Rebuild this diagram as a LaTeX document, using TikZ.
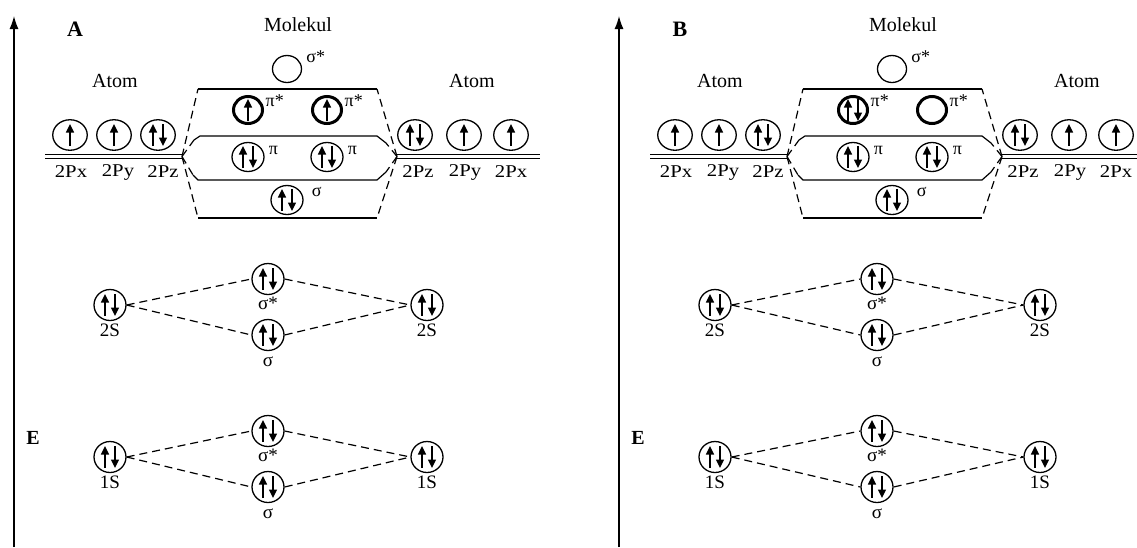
\documentclass[tikz,border=0pt]{standalone}
\usepackage{fontspec}
\setmainfont{Liberation Serif}
\newfontfamily\widefont{Liberation Serif}[FakeStretch=1.15]
\usepackage{tikz}
\usetikzlibrary{arrows.meta, shapes.geometric, positioning}

\tikzset{
  orb/.style={draw, ellipse, line width=1.3pt, inner sep=0pt,
    minimum width=34.5pt, minimum height=30.5pt},
  morb/.style={orb, minimum width=32pt, minimum height=29pt},
  thickorb/.style={orb, line width=3pt, minimum width=29pt, minimum height=27pt},
  sorb/.style={orb, minimum width=32pt, minimum height=31pt},
  spin/.style={line width=1.5pt, -{Triangle[length=8.5pt, width=8pt]}},
  level/.style={line width=1.2pt},
  link/.style={line width=1.2pt, dash pattern=on 8pt off 5pt},
  atomline/.style={double, line width=1.1pt, double distance=3.5pt},
  axis/.style={line width=1.3pt, -{Latex[length=13pt, width=9pt]}},
  title/.style={font=\fontsize{20}{24}\selectfont},
  orbname/.style={font=\widefont\fontsize{18}{22}\selectfont, inner sep=0pt},
  tag/.style={font=\fontsize{18}{22}\selectfont, inner sep=0pt, anchor=south west},
  lvl/.style={font=\fontsize{19}{23}\selectfont, inner sep=0pt,
    text height=13pt, text depth=4pt},
}

% spins inside an orbital
\newcommand{\spinone}[1]{\draw[spin] ([yshift=-11pt]#1.center) -- ([yshift=11pt]#1.center);}
\newcommand{\spinpair}[1]{%
  \draw[spin] ([shift={(-5pt,-11pt)}]#1.center) -- ([shift={(-5pt,11pt)}]#1.center);
  \draw[spin] ([shift={(5pt,11pt)}]#1.center) -- ([shift={(5pt,-11pt)}]#1.center);}
\newcommand{\spinnone}[1]{}

% one panel: letter, shift, pi* fillings, spread of the s levels
\newcommand{\mopanel}[5]{%
  \begin{scope}[xshift=#2]
    \coordinate (ebot) at (14,547);
    \coordinate (etop) at (14,16);
    \draw[axis] (ebot) -- (etop);
    \node[font=\bfseries\fontsize{20}{24}\selectfont] (elab) at (33,438) {E};
    \node[font=\bfseries\fontsize{22}{26}\selectfont] (plab) at (75,29) {#1};
    \node[title] (mol) at (298,25) {Molekul};
    \node[title] (atl) at (115,81) {Atom};
    \node[title] (atr) at (472,81) {Atom};

    % 2p of the atoms
    \coordinate (cl) at (182,156.5);
    \coordinate (cr) at (397,156.5);
    \coordinate (ll) at (45,156.5);
    \coordinate (lr) at (540,156.5);
    \draw[atomline] (ll) -- (cl);
    \draw[atomline] (cr) -- (lr);
    \node[orb] (pxl) at (70,135) {}; \spinone{pxl}
    \node[orb] (pyl) at (114,135) {}; \spinone{pyl}
    \node[orb] (pzl) at (158,135) {}; \spinpair{pzl}
    \node[orb] (pzr) at (415,135) {}; \spinpair{pzr}
    \node[orb] (pyr) at (464,135) {}; \spinone{pyr}
    \node[orb] (pxr) at (511,135) {}; \spinone{pxr}
    \node[orbname] (pxlt) at (71,172) {2Px};
    \node[orbname] (pylt) at (118,172) {2Py};
    \node[orbname] (pzlt) at (163,172) {2Pz};
    \node[orbname] (pzrt) at (418,172) {2Pz};
    \node[orbname] (pyrt) at (465,172) {2Py};
    \node[orbname] (pxrt) at (511,172) {2Px};

    % molecule box
    \coordinate (b1l) at (198,89);  \coordinate (b1r) at (377,89);
    \coordinate (b2l) at (194,140); \coordinate (b2r) at (386,143);
    \coordinate (b3l) at (193,175); \coordinate (b3r) at (386,172);
    \coordinate (b4l) at (198,218); \coordinate (b4r) at (377,218);
    \draw[level] (b1l) -- (b1r);
    \draw[level] (b2l) -- (200,136) -- (377,136) -- (b2r);
    \draw[level] (b3l) -- (198,180) -- (377,180) -- (b3r);
    \draw[level] (b4l) -- (b4r);
    \foreach \lev in {b1, b2, b3, b4} {
      \draw[link] (cl) -- (\lev l);
      \draw[link] (cr) -- (\lev r);
    }
    \node[orb, minimum width=29pt, minimum height=27pt] (ss) at (287,69) {};
    \node[tag] (sst) at ([shift={(4pt,6pt)}]ss.east) {σ*};
    \node[thickorb] (pst1) at (248,110) {}; #3{pst1}
    \node[tag] (pst1t) at ([shift={(1.5pt,3pt)}]pst1.east) {π*};
    \node[thickorb] (pst2) at (327,110) {}; #4{pst2}
    \node[tag] (pst2t) at ([shift={(1.5pt,3pt)}]pst2.east) {π*};
    \node[morb] (pi1) at (248,157) {}; \spinpair{pi1}
    \node[tag] (pi1t) at ([shift={(4pt,2pt)}]pi1.east) {π};
    \node[morb] (pi2) at (327,157) {}; \spinpair{pi2}
    \node[tag] (pi2t) at ([shift={(4pt,2pt)}]pi2.east) {π};
    \node[morb] (sg) at (287,200) {}; \spinpair{sg}
    \node[tag] (sgt) at ([shift={(8pt,3pt)}]sg.east) {σ};

    % 2s and 1s
    \foreach \lev/\ypos in {2S/305, 1S/457} {
      \node[sorb] (\lev l) at (110,\ypos) {}; \spinpair{\lev l}
      \node[sorb] (\lev a) at (268+#5,\ypos-26) {}; \spinpair{\lev a}
      \node[sorb] (\lev b) at (268+#5,\ypos+30) {}; \spinpair{\lev b}
      \node[sorb] (\lev r) at (427+2*#5,\ypos) {}; \spinpair{\lev r}
      \node[lvl, below=2pt of \lev l] (\lev lt) {\lev};
      \node[lvl, below=1pt of \lev a] (\lev at) {σ*};
      \node[lvl, below=2pt of \lev b] (\lev bt) {σ};
      \node[lvl, below=2pt of \lev r] (\lev rt) {\lev};
      \draw[link] (\lev l.east) -- (\lev a.west);
      \draw[link] (\lev l.east) -- (\lev b.west);
      \draw[link] (\lev a.east) -- (\lev r.west);
      \draw[link] (\lev b.east) -- (\lev r.west);
    }
  \end{scope}}

\begin{document}
\begin{tikzpicture}[x=1pt, y=-1pt]
  \useasboundingbox (0,0) rectangle (1137,547);

  \mopanel{A}{0pt}{\spinone}{\spinone}{0}
  \mopanel{B}{605pt}{\spinpair}{\spinnone}{4}

\end{tikzpicture}
\end{document}
